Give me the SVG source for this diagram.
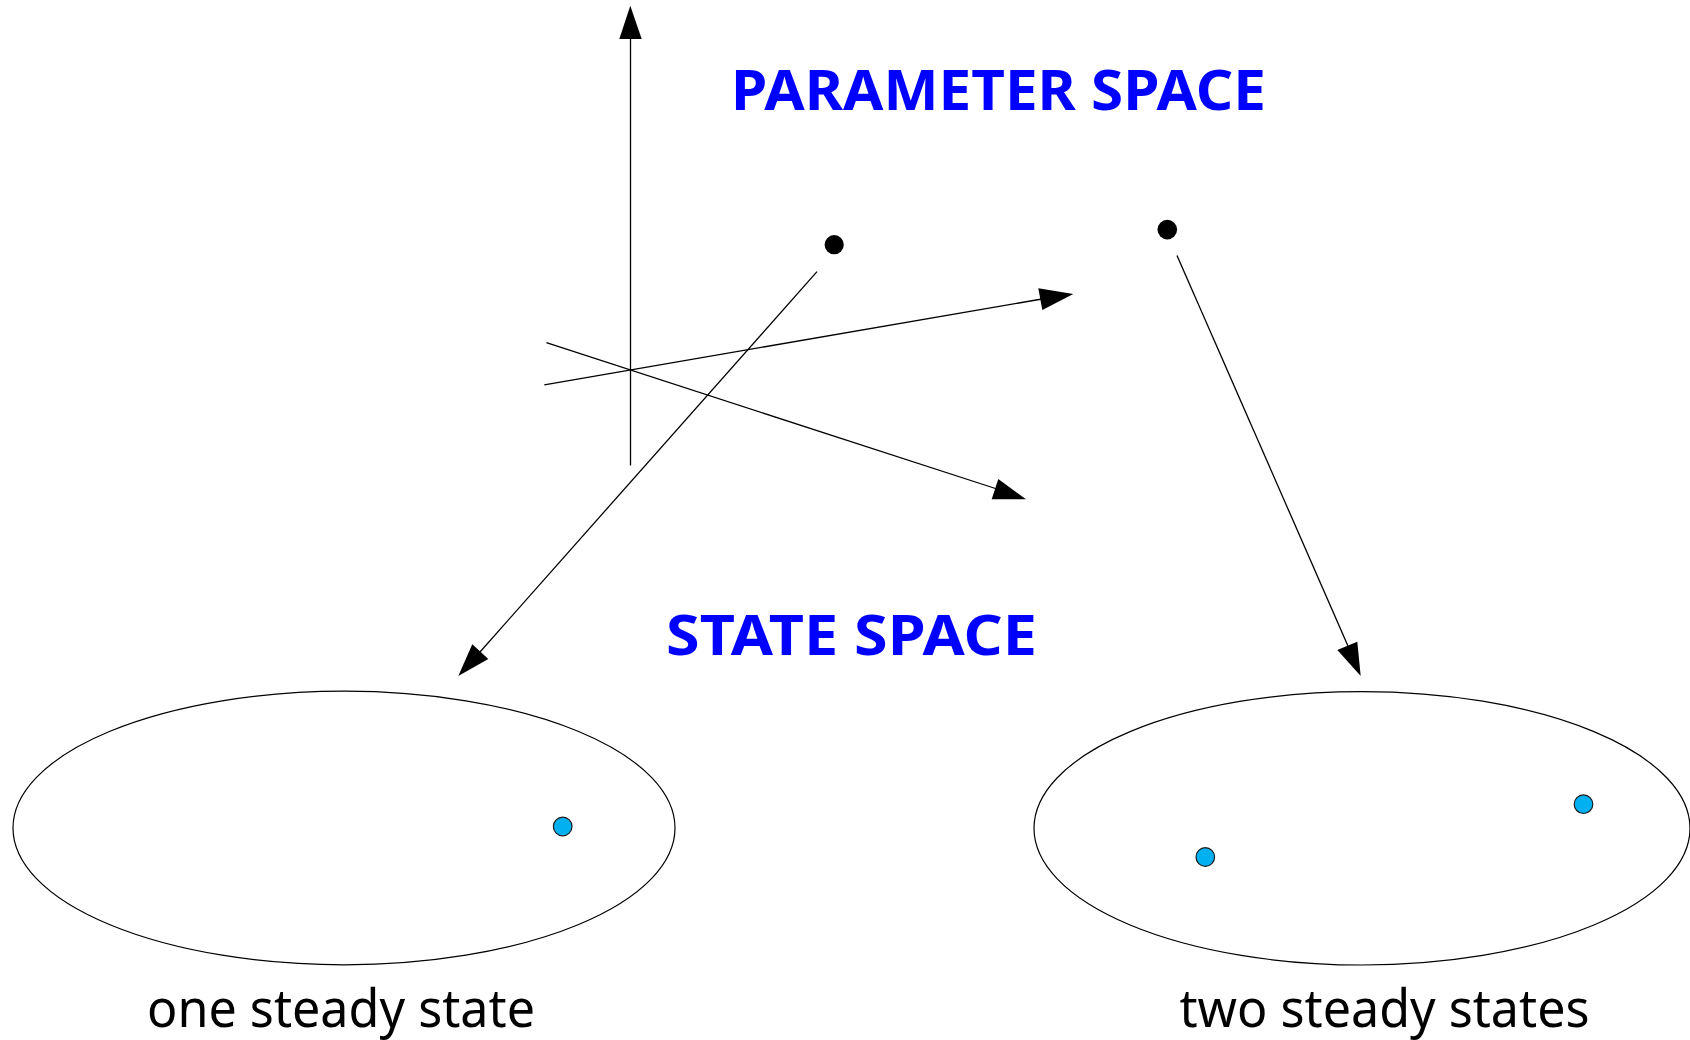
<svg xmlns="http://www.w3.org/2000/svg" width="1690" height="1040" viewBox="0 0 1690 1040">
<style>
.ln{stroke:#000;stroke-width:1.3;fill:none}
.ah{fill:#000;stroke:none}
.title{font-family:"Noto Sans","Open Sans",sans-serif;font-weight:bold;font-size:56px;fill:#0000ff}
.lab{font-family:"Noto Sans","Open Sans",sans-serif;font-size:52px;fill:#000}
.pt{fill:#000}
.ss{fill:#00b0f0;stroke:#1a1a1a;stroke-width:1.2}
.ell{fill:none;stroke:#000;stroke-width:1.2}
</style>
<rect width="1690" height="1040" fill="#fff"/>
<g id="connectors">
  <line class="ln" x1="630.5" y1="38" x2="630.5" y2="465.6"/>
  <polygon class="ah" points="630.3,5.7 619.3,39 641.7,39"/>
  <line class="ln" x1="544.3" y1="384.8" x2="1042" y2="299"/>
  <polygon class="ah" points="1073.3,294 1038.3,288.3 1042.3,310"/>
  <line class="ln" x1="546.4" y1="342.7" x2="997" y2="489"/>
  <polygon class="ah" points="1026,499.3 998.3,479 991.7,499.3"/>
  <line class="ln" x1="817" y1="271.6" x2="480" y2="652"/>
  <polygon class="ah" points="458.3,676 472.3,644.3 488.3,659"/>
  <line class="ln" x1="1177" y1="255.4" x2="1348" y2="646"/>
  <polygon class="ah" points="1360.7,676 1337.3,650 1357.3,641.7"/>
</g>
<g id="param-point-1"><circle class="pt" cx="834.2" cy="244.7" r="9.6"/></g>
<g id="param-point-2"><circle class="pt" cx="1167.3" cy="229.6" r="9.8"/></g>
<g id="parameter-space-label"><text class="title" x="731" y="110" textLength="535" lengthAdjust="spacingAndGlyphs">PARAMETER SPACE</text></g>
<g id="state-space-label"><text class="title" x="666" y="654.5" textLength="371" lengthAdjust="spacingAndGlyphs">STATE SPACE</text></g>
<g id="state-space-one">
  <ellipse class="ell" cx="344" cy="828" rx="331" ry="136.8"/>
  <circle class="ss" cx="562.7" cy="826.5" r="9.3"/>
  <text class="lab" x="147" y="1027" textLength="388" lengthAdjust="spacingAndGlyphs">one steady state</text>
</g>
<g id="state-space-two">
  <ellipse class="ell" cx="1362" cy="828.3" rx="328" ry="136.7"/>
  <circle class="ss" cx="1583.5" cy="804.2" r="9.3"/>
  <circle class="ss" cx="1205.3" cy="857" r="9.3"/>
  <text class="lab" x="1179.5" y="1027" textLength="410" lengthAdjust="spacingAndGlyphs">two steady states</text>
</g>
</svg>
